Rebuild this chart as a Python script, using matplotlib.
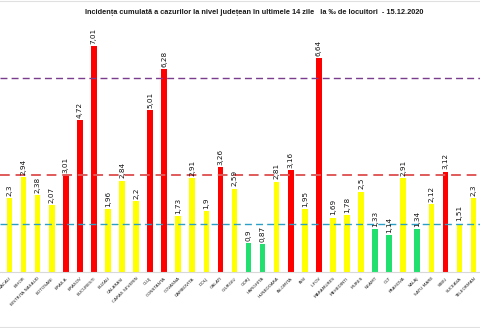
import matplotlib
matplotlib.use("Agg")
import matplotlib.pyplot as plt
from matplotlib.lines import Line2D

# Cumulative 14-day incidence per 1000 inhabitants, by county (15.12.2020)
counties = ["BACAU", "BIHOR", "BISTRITA NASAUD", "BOTOSANI", "BRAILA", "BRASOV",
            "BUCURESTI", "BUZAU", "CALARASI", "CARAS SEVERIN", "CLUJ", "CONSTANTA",
            "COVASNA", "DAMBOVITA", "DOLJ", "GALATI", "GIURGIU", "GORJ", "HARGHITA",
            "HUNEDOARA", "IALOMITA", "IASI", "ILFOV", "MARAMURES", "MEHEDINTI",
            "MURES", "NEAMT", "OLT", "PRAHOVA", "SALAJ", "SATU MARE", "SIBIU",
            "SUCEAVA", "TELEORMAN"]
incidence = [2.3, 2.94, 2.38, 2.07, 3.01, 4.72, 7.01, 1.96, 2.84, 2.2, 5.01, 6.28,
             1.73, 2.91, 1.9, 3.26, 2.59, 0.9, 0.87, 2.81, 3.16, 1.95, 6.64, 1.69,
             1.78, 2.5, 1.33, 1.14, 2.91, 1.34, 2.12, 3.12, 1.51, 2.3]
next_labels = ["TIMIS"]

# Scenario thresholds (per 1000 inhabitants)
thresholds = [1.5, 3.0, 6.0]
threshold_colors = ["#2AA0C8", "#E05A5A", "#7A3C8C"]

def bar_color(v):
    if v > 3.0:
        return "#FF0000"
    if v >= 1.5:
        return "#FFFF00"
    return "#22E070"

fig = plt.figure(figsize=(4.8, 3.28), dpi=100)
ax = fig.add_axes([0.0, 0.1698, 1.0, 0.788])

x = list(range(len(counties)))
ax.bar(x, incidence, width=0.4, color=[bar_color(v) for v in incidence], zorder=2)

for xi, v in zip(x, incidence):
    ax.text(xi, v + 0.07, f"{v:g}".replace(".", ","), rotation=90,
            ha="center", va="bottom", fontsize=5.2, color="#111111", zorder=4)

for t, c in zip(thresholds, threshold_colors):
    lw = 1.4 if t == 3.0 else 1.0
    ax.axhline(t, color=c, linestyle=(0, (5, 3)), linewidth=lw, zorder=3)

all_labels = counties + next_labels
ax.set_xticks(range(len(all_labels)))
ax.set_xticklabels(all_labels, rotation=45, ha="right", rotation_mode="anchor",
                   fontsize=3.2, color="#222222")
ax.tick_params(axis="x", length=0, pad=3)
ax.set_yticks([])

ax.set_xlim(-0.676, 33.46)
ax.set_ylim(0, 8)
for s in ["top", "left", "right"]:
    ax.spines[s].set_visible(False)
ax.spines["bottom"].set_color("#D9D9D9")
ax.spines["bottom"].set_linewidth(0.8)

fig.text(254.5 / 480, 1 - 12.5 / 328,
         "Incidența cumulată a cazurilor la nivel județean în ultimele 14 zile   la ‰ de locuitori  - 15.12.2020",
         ha="center", va="center", fontsize=5.3, fontweight="bold", color="#1A1A1A",
         family=["Liberation Sans Narrow", "Liberation Sans", "DejaVu Sans"])

# light frame lines at top and bottom of the chart area
fig.add_artist(Line2D([0, 1], [0.998, 0.998], transform=fig.transFigure,
                      color="#E0E0E0", linewidth=0.8))
fig.add_artist(Line2D([0, 1], [1 - 326.5 / 328, 1 - 326.5 / 328], transform=fig.transFigure,
                      color="#E0E0E0", linewidth=0.8))

fig.savefig("out.png", dpi=100)
